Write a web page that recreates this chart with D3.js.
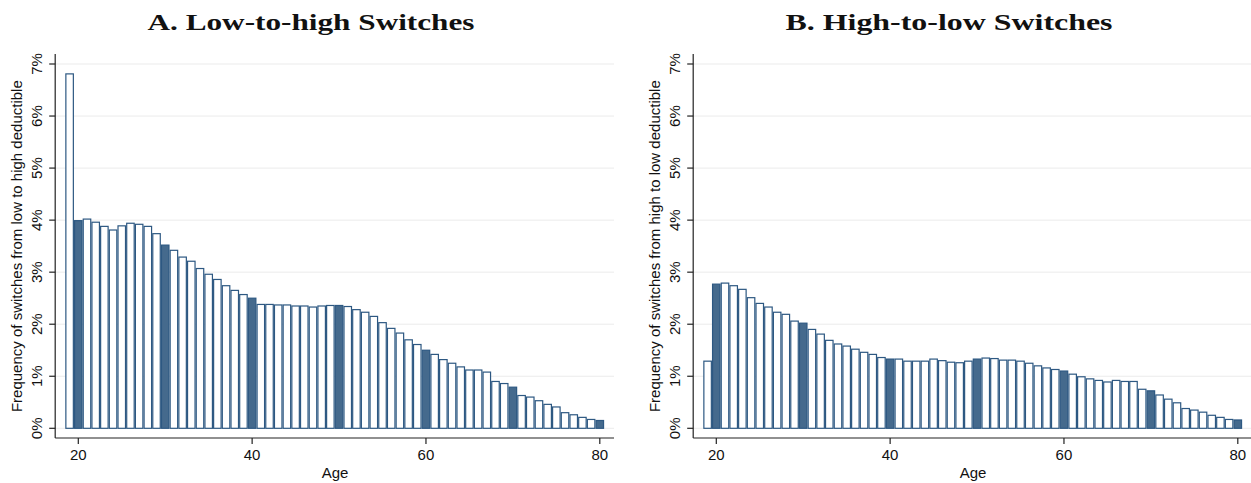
<!DOCTYPE html>
<html><head><meta charset="utf-8">
<script src="https://cdn.jsdelivr.net/npm/d3@7"></script>
<style>body{margin:0;background:#fff;}svg{display:block;}</style>
</head><body>
<svg id="chart" width="1251" height="483"></svg>
<script>
const ages = d3.range(19, 81);
const lowToHigh = [6.81,3.99,4.02,3.96,3.88,3.81,3.89,3.94,3.92,3.88,3.74,3.52,3.42,3.29,3.21,3.07,2.96,2.86,2.74,2.65,2.57,
  2.50,2.38,2.38,2.37,2.37,2.35,2.35,2.33,2.35,2.36,2.36,2.34,2.28,2.23,2.15,2.03,1.92,1.83,1.70,1.61,
  1.50,1.42,1.32,1.25,1.18,1.12,1.12,1.08,0.90,0.86,0.79,0.63,0.60,0.53,0.46,0.41,0.30,0.26,0.21,0.17,0.15];
const highToLow = [1.29,2.77,2.79,2.74,2.67,2.51,2.40,2.33,2.23,2.19,2.06,2.02,1.90,1.81,1.69,1.62,1.58,1.52,1.46,1.42,1.36,
  1.33,1.33,1.29,1.29,1.29,1.33,1.30,1.27,1.26,1.29,1.33,1.35,1.34,1.31,1.31,1.29,1.25,1.20,1.16,1.13,
  1.10,1.04,0.99,0.95,0.92,0.89,0.92,0.90,0.90,0.75,0.72,0.64,0.56,0.49,0.38,0.35,0.31,0.25,0.21,0.17,0.16];
const highlightAges = [20,30,40,50,60,70,80];
const xTicks = [20,40,60,80];
const yTicks = [0,1,2,3,4,5,6,7];
const titles = ["A. Low-to-high Switches", "B. High-to-low Switches"];
const yTitles = ["Frequency of switches from low to high deductible", "Frequency of switches from high to low deductible"];
const xTitle = "Age";

const svg = d3.select("#chart");
const panels = [
  {off: 0, values: lowToHigh, title: titles[0], ytitle: yTitles[0]},
  {off: 638, values: highToLow, title: titles[1], ytitle: yTitles[1]}
];
const y = d3.scaleLinear().domain([0, 7]).range([428.3, 64]);

panels.forEach(p => {
  const g = svg.append("g").attr("transform", `translate(${p.off},0)`);
  const x = d3.scaleLinear().domain([20, 80]).range([78.3, 599.8]);
  const axL = 55.2, axR = 614, axB = 438, axT = 54;
  // grid
  g.selectAll(".grid").data(yTicks).join("line")
    .attr("x1", axL).attr("x2", axR)
    .attr("y1", d => y(d)).attr("y2", d => y(d))
    .attr("stroke", "#ebebeb").attr("stroke-width", 1);
  // bars
  const data = ages.map((a, i) => ({a, v: p.values[i]}));
  g.selectAll(".bar").data(data).join("rect")
    .attr("x", d => x(d.a - 0.5) + 0.6)
    .attr("width", d => x(d.a + 0.5) - x(d.a - 0.5) - 1.2)
    .attr("y", d => y(d.v))
    .attr("height", d => y(0) - y(d.v))
    .attr("fill", d => highlightAges.includes(d.a) ? "#456a8d" : "#ffffff")
    .attr("stroke", "#2d5882").attr("stroke-width", 1.2);
  // axes lines
  g.append("line").attr("x1", axL).attr("x2", axL).attr("y1", axT).attr("y2", axB)
    .attr("stroke", "#222").attr("stroke-width", 1.2);
  g.append("line").attr("x1", axL).attr("x2", axR).attr("y1", axB).attr("y2", axB)
    .attr("stroke", "#222").attr("stroke-width", 1.2);
  // y ticks
  g.selectAll(".yt").data(yTicks).join("line")
    .attr("x1", axL - 6).attr("x2", axL).attr("y1", d => y(d)).attr("y2", d => y(d))
    .attr("stroke", "#222").attr("stroke-width", 1.2);
  g.selectAll(".yl").data(yTicks).join("text")
    .attr("transform", d => `translate(42,${y(d)}) rotate(-90)`)
    .attr("text-anchor", "middle")
    .attr("font-family", "Liberation Sans, Arial, sans-serif").attr("font-size", 15).attr("fill", "#111")
    .text(d => d + "%");
  // x ticks
  g.selectAll(".xt").data(xTicks).join("line")
    .attr("x1", d => x(d)).attr("x2", d => x(d)).attr("y1", axB).attr("y2", axB + 6)
    .attr("stroke", "#222").attr("stroke-width", 1.2);
  g.selectAll(".xl").data(xTicks).join("text")
    .attr("x", d => x(d)).attr("y", 460)
    .attr("text-anchor", "middle")
    .attr("font-family", "Liberation Sans, Arial, sans-serif").attr("font-size", 15).attr("fill", "#111")
    .text(d => d);
  // axis titles
  g.append("text").attr("x", 335).attr("y", 478).attr("text-anchor", "middle")
    .attr("font-family", "Liberation Sans, Arial, sans-serif").attr("font-size", 15).attr("fill", "#111")
    .text(xTitle);
  g.append("text").attr("transform", `translate(22,${y(3.5)}) rotate(-90)`)
    .attr("text-anchor", "middle")
    .attr("font-family", "Liberation Sans, Arial, sans-serif").attr("font-size", 15).attr("fill", "#111")
    .text(p.ytitle);
  // title
  g.append("text").attr("x", 311).attr("y", 30).attr("text-anchor", "middle")
    .attr("font-family", "Liberation Serif, serif").attr("font-weight", "bold").attr("font-size", 24)
    .attr("fill", "#111")
    .attr("textLength", 327).attr("lengthAdjust", "spacingAndGlyphs")
    .text(p.title);
});
</script>
</body></html>
